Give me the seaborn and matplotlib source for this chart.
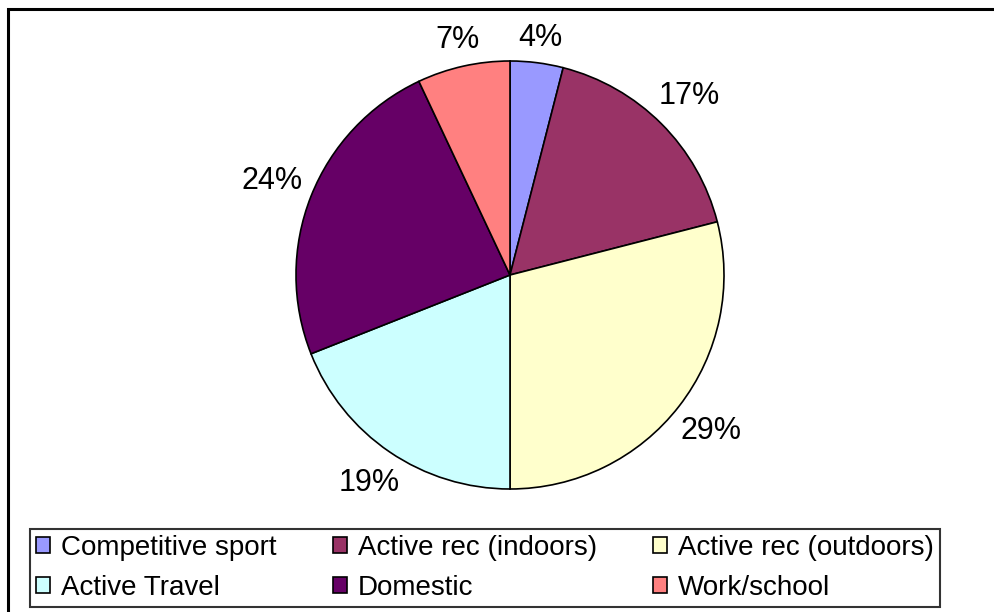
import matplotlib
matplotlib.use("Agg")
import numpy as np
import matplotlib.pyplot as plt
import seaborn as sns
from matplotlib.patches import Rectangle, Patch

# data
categories = ["Competitive sport", "Active rec (indoors)", "Active rec (outdoors)",
              "Active Travel", "Domestic", "Work/school"]
shares = [4, 17, 29, 19, 24, 7]
colors = ["#9999FF", "#993366", "#FFFFCC", "#CCFFFF", "#660066", "#FF8080"]

sns.set_style("white")
plt.rcParams['font.family'] = ['Liberation Sans', 'DejaVu Sans']
plt.rcParams['text.color'] = 'black'

W, H = 994, 612
fig = plt.figure(figsize=(W / 100, H / 100), dpi=100)

# outer chart frame (right/bottom edges run off the picture)
fig.patches.append(Rectangle((8 / W, -0.1), 1.2, 1 - 9 / H + 0.1, transform=fig.transFigure,
                             fill=False, edgecolor='black', linewidth=2.2, zorder=0))

# pie area: centre (510, 275), radius ~214 px
cx, cy, r = 510, 275, 214
ax = fig.add_axes([(cx - r) / W, (H - cy - r) / H, 2 * r / W, 2 * r / H])
wedges, texts, autotexts = ax.pie(
    shares, colors=colors, startangle=90, counterclock=False, radius=1,
    autopct='%d%%', pctdistance=1.2,
    wedgeprops=dict(edgecolor='black', linewidth=1.2),
    textprops=dict(fontsize=22, color='black'))
ax.set_xlim(-1, 1)
ax.set_ylim(-1, 1)
ax.set_aspect('equal')
ax.axis('off')

# push each percentage label just outside the rim, like Excel does
fig.canvas.draw()
renderer = fig.canvas.get_renderer()
gap = 0.035
for w, t in zip(wedges, autotexts):
    ang = np.deg2rad((w.theta1 + w.theta2) / 2)
    ux, uy = np.cos(ang), np.sin(ang)
    bb = t.get_window_extent(renderer)
    a = bb.width / 2 / r
    b = bb.height / 2 / r
    d = 1 + gap + abs(ux) * a + abs(uy) * b
    t.set_position((d * ux, d * uy))

# legend, filled row-wise
order = [0, 3, 1, 4, 2, 5]
handles = [Patch(facecolor=colors[i], edgecolor='black', linewidth=1.2, label=categories[i])
           for i in order]
leg = fig.legend(handles=handles, loc='lower left', ncol=3, mode='expand',
                 bbox_to_anchor=(30 / W, (H - 607) / H, 910 / W, 90 / H),
                 fontsize=20, frameon=True, fancybox=False, borderaxespad=0,
                 handlelength=0.5, handleheight=0.5, handletextpad=0.4,
                 labelspacing=0.5, borderpad=0.22, columnspacing=1.0)
leg.get_frame().set_edgecolor('black')
leg.get_frame().set_linewidth(1.5)

fig.savefig("out.png", dpi=100)
